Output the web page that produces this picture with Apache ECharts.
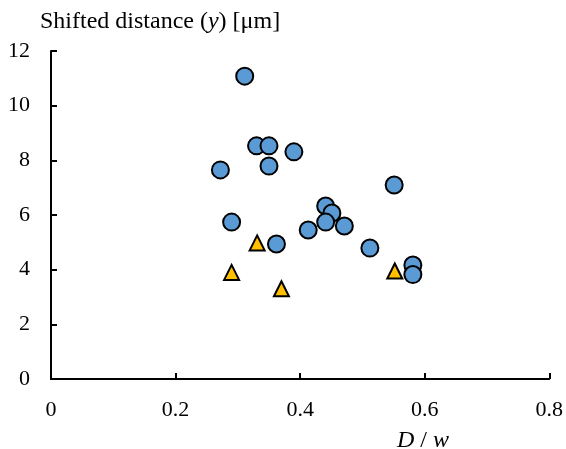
<!DOCTYPE html>
<html>
<head>
<meta charset="utf-8">
<script src="https://cdn.jsdelivr.net/npm/echarts@6/dist/echarts.min.js"></script>
<style>
html, body { margin: 0; padding: 0; background: #fff; }
#chart { width: 566px; height: 449px; }
</style>
</head>
<body>
<div id="chart"></div>
<script>
// circles
var circleX = [0.311, 0.33, 0.35, 0.39, 0.272, 0.35, 0.551, 0.441, 0.451, 0.441, 0.471, 0.413, 0.29, 0.362, 0.512, 0.581, 0.581];
var circleY = [11.08, 8.53, 8.53, 8.31, 7.65, 7.79, 7.10, 6.33, 6.07, 5.74, 5.60, 5.45, 5.74, 4.94, 4.79, 4.17, 3.82];
// triangles
var triX = [0.331, 0.29, 0.37, 0.552];
var triY = [4.98, 3.9, 3.3, 3.95];

function pairs(xs, ys) {
    var out = [];
    for (var i = 0; i < xs.length; i++) {
        out.push([xs[i], ys[i]]);
    }
    return out;
}

var font = 'Liberation Serif';
var chart = echarts.init(document.getElementById('chart'));
chart.setOption({
    animation: false,
    title: [{
        left: 35,
        top: 5,
        text: '{a|Shifted distance (}{i|y}{a|) [μm]}',
        textStyle: {
            fontWeight: 'normal',
            rich: {
                a: {fontFamily: font, fontSize: 24, color: '#000', fontWeight: 'normal'},
                i: {fontFamily: font, fontSize: 24, color: '#000', fontWeight: 'normal', fontStyle: 'italic'}
            }
        }
    }, {
        left: 392,
        top: 424,
        text: '{i|D}{a| / }{i|w}',
        textStyle: {
            fontWeight: 'normal',
            rich: {
                a: {fontFamily: font, fontSize: 24, color: '#000', fontWeight: 'normal'},
                i: {fontFamily: font, fontSize: 24, color: '#000', fontWeight: 'normal', fontStyle: 'italic'}
            }
        }
    }],
    grid: {left: 51, right: 15, top: 51, bottom: 70},
    xAxis: {
        type: 'value',
        min: 0,
        max: 0.8,
        interval: 0.2,
        axisLine: {show: true, lineStyle: {color: '#000', width: 2}},
        axisTick: {show: true, inside: true, length: 6, lineStyle: {color: '#000', width: 2}},
        splitLine: {show: false},
        axisLabel: {
            margin: 20, color: '#000', fontFamily: font, fontSize: 22,
            formatter: function(v) { return v === 0 ? '0' : v.toFixed(1); }
        }
    },
    yAxis: {
        type: 'value',
        min: 0,
        max: 12,
        interval: 2,
        axisLine: {show: true, lineStyle: {color: '#000', width: 2}},
        axisTick: {show: true, inside: true, length: 6, lineStyle: {color: '#000', width: 2}},
        splitLine: {show: false},
        axisLabel: {margin: 21, color: '#000', fontFamily: font, fontSize: 22}
    },
    series: [{
        type: 'scatter',
        symbol: 'circle',
        symbolSize: 17,
        data: pairs(circleX, circleY),
        itemStyle: {color: '#5b9bd5', borderColor: '#000', borderWidth: 2, opacity: 1}
    }, {
        type: 'scatter',
        symbol: 'triangle',
        symbolSize: [15, 15],
        data: pairs(triX, triY),
        itemStyle: {color: '#ffc000', borderColor: '#000', borderWidth: 2, opacity: 1}
    }]
});
</script>
</body>
</html>
